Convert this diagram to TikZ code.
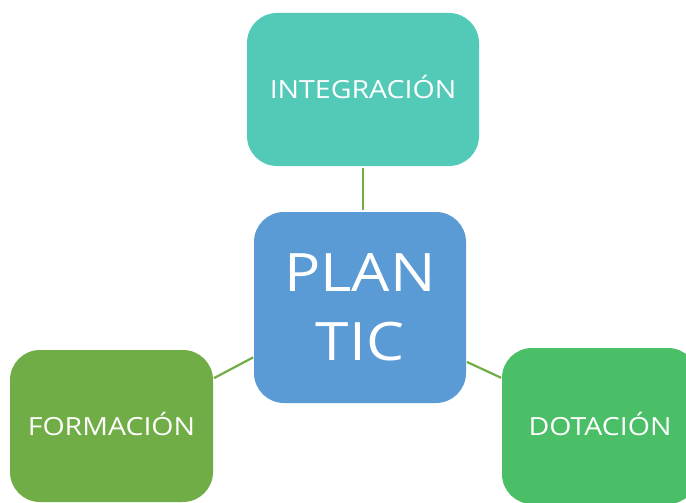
\documentclass[tikz,border=0pt]{standalone}
\usepackage{fontspec}
\setmainfont{Open Sans}[FakeStretch=1.14]
\definecolor{cteal}{RGB}{83,201,183}
\definecolor{cblue}{RGB}{91,155,213}
\definecolor{cleaf}{RGB}{112,173,71}
\definecolor{cgreen}{RGB}{75,191,103}
\definecolor{cline}{RGB}{112,173,71}
\begin{document}
\begin{tikzpicture}[x=1pt,y=-1pt,
  boxnode/.style={rectangle,rounded corners=30pt,draw=none,text=white,
    inner sep=0pt,outer sep=0pt,align=center,font=\fontsize{25}{30}\selectfont},
  capbox/.style={boxnode,text height=18pt,text depth=0pt},
  link/.style={draw=cline,line width=2.2pt}]
\useasboundingbox (0,0) rectangle (686,503);
\node[capbox,fill=cteal,minimum width=232pt,minimum height=153pt] (top) at (363,89.5) {INTEGRACIÓN};
\node[boxnode,fill=cblue,minimum width=212pt,minimum height=191pt,
  font=\fontsize{53}{69}\selectfont] (center) at (360,307.5) {PLAN\\TIC};
\node[capbox,fill=cleaf,minimum width=203pt,minimum height=152pt] (left) at (111.5,426) {FORMACIÓN};
\node[capbox,fill=cgreen,minimum width=196pt,minimum height=156pt] (right) at (600,426) {DOTACIÓN};
\draw[link,shorten <=2pt,shorten >=2pt] (top.south) -- (top.south |- center.north);
\draw[link,shorten <=1pt,shorten >=1pt] (left.25) -- (center.205);
\draw[link,shorten <=1pt,shorten >=1pt] (center.333) -- (right.154);
\end{tikzpicture}
\end{document}
